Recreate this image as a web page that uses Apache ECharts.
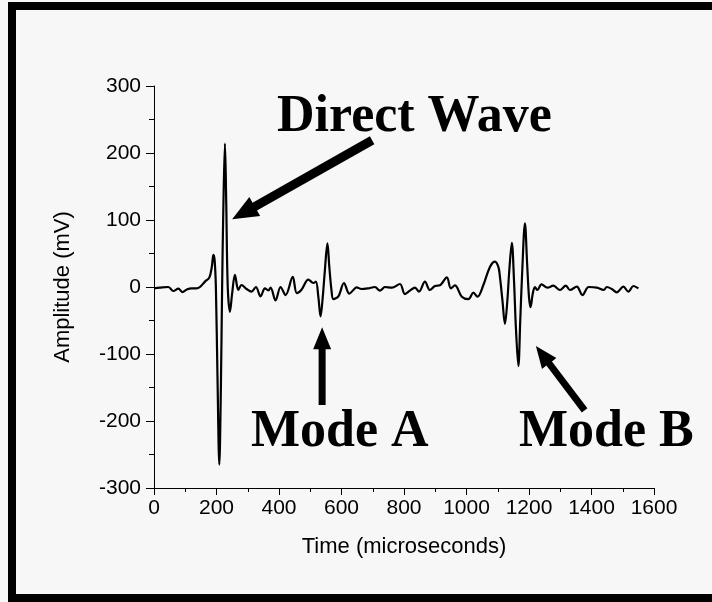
<!DOCTYPE html>
<html>
<head>
<meta charset="utf-8">
<script src="https://cdn.jsdelivr.net/npm/echarts@6/dist/echarts.min.js"></script>
<style>
  html, body { margin: 0; padding: 0; background: #f7f7f7; }
  #chart { width: 712px; height: 602px; }
</style>
</head>
<body>
<div id="chart"></div>
<script>
// waveform: time (microseconds) / amplitude (mV)
const times = [0, 19, 46, 62, 78, 91, 104, 120, 136, 147, 163, 177, 185, 190, 194, 198, 203, 209, 214, 218,
  222, 227, 231, 236, 243, 250, 259, 270, 280, 296, 312, 326, 341, 355, 366, 373, 389, 405, 421, 444,
  457, 472, 494, 510, 518, 526, 533, 540, 546, 555, 561, 568, 574, 590, 608, 625, 638, 648, 664, 685,
  707, 723, 739, 761, 787, 803, 819, 835, 848, 867, 883, 899, 915, 937, 950, 963, 985, 1006, 1022, 1035,
  1054, 1075, 1091, 1102, 1107, 1115, 1123, 1130, 1137, 1145, 1152, 1158, 1166, 1172, 1178, 1187, 1194, 1200, 1205, 1212,
  1219, 1227, 1240, 1259, 1278, 1299, 1318, 1331, 1353, 1371, 1391, 1417, 1439, 1449, 1465, 1481, 1502, 1518, 1534, 1550];
const amplitudes = [-2, -1, 0, -6, -2.5, -7.5, -4, -2, -2, 0, 8, 14, 30, 48, 40, 0, -130, -265, -150, 0,
  120, 214, 130, 0, -37, -10, 18, -4.5, 3, -3, -7, 0, -14, -2, -5, -1, -20, 0, -12, 15,
  -9, -4, 11, 6, 8, -15, -44, -15, 20, 65, 30, -5, -18, -14, 6, -10, -4.5, -0.5, -3, -2,
  0, -5.5, 0, -1, 4.5, -10.5, -5.5, -1, -7, 8, -4.5, 1.5, 2.5, 14.5, -2, 2.5, -14.5, -18, -8.5, -14.5,
  3, 30, 38, 30, 15, -20, -55, -25, 25, 66, 10, -60, -118, -50, 20, 95, 35, -15, -30, -10,
  0, -4.5, 4, -1, 2, -4.5, 2, -4.5, 0.5, -12, 0, -1, -4.5, 0, -3, -8, 0.5, -7, 1.5, -2];

// annotations (data space)
const labels = ['Direct Wave', 'Mode A', 'Mode B'];
const arrowTails = [[698, 219], [538, -176], [1378, -184]];
const arrowTips = [[250, 101], [538, -60], [1222, -88]];

const chart = echarts.init(document.getElementById('chart'));
const axisFont = { fontFamily: 'Liberation Sans, Arial, sans-serif', fontSize: 21, color: '#000' };

chart.setOption({
  animation: false,
  backgroundColor: '#f7f7f7',
  grid: { left: 154, top: 86, width: 500, height: 402 },
  xAxis: {
    type: 'value',
    min: 0,
    max: 1600,
    interval: 200,
    name: 'Time (microseconds)',
    nameLocation: 'middle',
    nameGap: 48,
    nameTextStyle: { ...axisFont, fontSize: 22 },
    axisLine: { onZero: false, lineStyle: { color: '#000', width: 1 } },
    axisTick: { length: 7, lineStyle: { color: '#000' } },
    minorTick: { show: true, splitNumber: 2, length: 4, lineStyle: { color: '#000' } },
    splitLine: { show: false },
    axisLabel: { ...axisFont, margin: 10, formatter: (v) => String(v) },
  },
  yAxis: {
    type: 'value',
    min: -300,
    max: 300,
    interval: 100,
    name: 'Amplitude (mV)',
    nameLocation: 'middle',
    nameGap: 80,
    nameTextStyle: { ...axisFont, fontSize: 22 },
    axisLine: { show: true, onZero: false, lineStyle: { color: '#000', width: 1 } },
    axisTick: { show: true, length: 8, lineStyle: { color: '#000' } },
    minorTick: { show: true, splitNumber: 2, length: 5, lineStyle: { color: '#000' } },
    splitLine: { show: false },
    axisLabel: { ...axisFont, margin: 13, formatter: (v) => String(v) },
  },
  series: [{
    type: 'line',
    data: times.map((t, i) => [t, amplitudes[i]]),
    showSymbol: false,
    smooth: 0.35,
    lineStyle: { color: '#000', width: 2.2 },
  }],
});

function arrowPoints(tail, tip, headLen, headHalf, shaftHalf) {
  const p0 = chart.convertToPixel({ gridIndex: 0 }, tail);
  const p1 = chart.convertToPixel({ gridIndex: 0 }, tip);
  const dx = p1[0] - p0[0], dy = p1[1] - p0[1];
  const len = Math.hypot(dx, dy);
  const ux = dx / len, uy = dy / len;
  const nx = -uy, ny = ux;
  const bx = p1[0] - ux * headLen, by = p1[1] - uy * headLen;
  return [
    [p0[0] + nx * shaftHalf, p0[1] + ny * shaftHalf],
    [bx + nx * shaftHalf, by + ny * shaftHalf],
    [bx + nx * headHalf, by + ny * headHalf],
    [p1[0], p1[1]],
    [bx - nx * headHalf, by - ny * headHalf],
    [bx - nx * shaftHalf, by - ny * shaftHalf],
    [p0[0] - nx * shaftHalf, p0[1] - ny * shaftHalf],
  ];
}

const labelFont = 'bold 52px "Liberation Serif", "Times New Roman", serif';
const labelPos = [[277, 118], [251, 433], [519, 433]];

chart.setOption({
  graphic: [
    {
      type: 'rect',
      shape: { x: 12, y: 6, width: 760, height: 592 },
      style: { fill: 'none', stroke: '#000', lineWidth: 8 },
      silent: true,
    },
    ...arrowTails.map((tail, i) => ({
      type: 'polygon',
      shape: { points: arrowPoints(tail, arrowTips[i], i === 0 ? 26 : 22, i === 0 ? 11 : 9, i === 0 ? 4.5 : 3.5) },
      style: { fill: '#000' },
      silent: true,
    })),
    ...labels.map((txt, i) => ({
      type: 'text',
      x: labelPos[i][0],
      y: labelPos[i][1],
      style: { text: txt, font: labelFont, fill: '#000', textAlign: 'left', textVerticalAlign: 'middle' },
      silent: true,
    })),
  ],
});
</script>
</body>
</html>
